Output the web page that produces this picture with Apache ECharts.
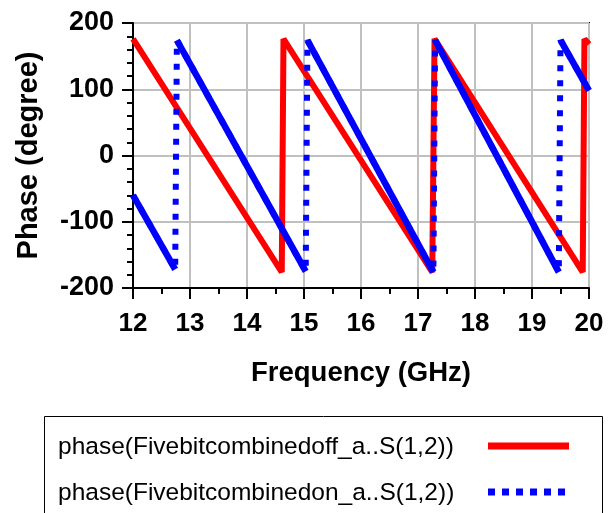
<!DOCTYPE html>
<html>
  <head>
    <meta charset="UTF-8" />
    <title>Phase vs Frequency</title>
    <style>
      body { margin: 0; padding: 0; background: #fff; }
      #container { width: 613px; height: 513px; }
    </style>
  </head>
  <body>
    <div id="container"></div>
    <script src="https://cdn.jsdelivr.net/npm/echarts@6/dist/echarts.min.js"></script>
    <script>
      // series names as in the legend
      const offName = "phase(Fivebitcombinedoff_a..S(1,2))";
      const onName = "phase(Fivebitcombinedon_a..S(1,2))";

      // "off" state: frequency (GHz) / phase (degree) break points
      const offFreq = [12.0, 14.61, 14.64, 17.25, 17.29, 19.89, 19.92, 20.0];
      const offPhase = [176, -176, 176, -176, 176, -176, 176, 168];

      // "on" state
      const onFreq = [12.0, 12.74, 12.77, 15.03, 15.06, 17.27, 17.3, 19.47, 19.5, 20.0];
      const onPhase = [-60, -172, 174, -175, 174, -176, 174, -176, 174, 98];

      const xTicks = [12, 13, 14, 15, 16, 17, 18, 19, 20];
      const yTicks = [-200, -100, 0, 100, 200];

      const pts = (f, p) => f.map((v, i) => [v, p[i]]);
      const offPts = pts(offFreq, offPhase);
      const onPts = pts(onFreq, onPhase);

      // sloped parts of the "on" curve are drawn solid, the wraps dotted
      const onSlopes = [];
      for (let i = 0; i + 1 < onPts.length; i += 2) {
        onSlopes.push({
          type: "line",
          name: "on-seg",
          data: [onPts[i], onPts[i + 1]],
          symbol: "none",
          silent: true,
          lineStyle: { color: "#0000ff", width: 6.5 },
          z: 4,
        });
      }

      const font = "Liberation Sans";
      const legendText = { fontFamily: font, fontSize: 24.5, fill: "#000", verticalAlign: "middle" };

      var chart = echarts.init(document.getElementById("container"));
      chart.setOption({
        animation: false,
        grid: {
          left: 133,
          right: 24,
          top: 23,
          bottom: 225,
          show: true,
          borderColor: "#000",
          borderWidth: 2,
        },
        xAxis: {
          type: "value",
          min: xTicks[0],
          max: xTicks[xTicks.length - 1],
          interval: 1,
          name: "Frequency (GHz)",
          nameLocation: "middle",
          nameGap: 71,
          nameTextStyle: { fontFamily: font, fontWeight: "bold", fontSize: 27.5, color: "#000" },
          axisLine: { onZero: false, lineStyle: { color: "#000", width: 2 } },
          axisTick: { length: 11, lineStyle: { color: "#000", width: 2 } },
          minorTick: { show: true, splitNumber: 2, length: 6, lineStyle: { color: "#000", width: 2 } },
          axisLabel: { margin: 23, fontFamily: font, fontWeight: "bold", fontSize: 26, color: "#000" },
          splitLine: { lineStyle: { color: "#c0c0c0", width: 2 } },
        },
        yAxis: {
          type: "value",
          min: yTicks[0],
          max: yTicks[yTicks.length - 1],
          interval: 100,
          name: "Phase (degree)",
          nameLocation: "middle",
          nameGap: 90,
          nameTextStyle: { fontFamily: font, fontWeight: "bold", fontSize: 29, color: "#000" },
          axisLine: { onZero: false, lineStyle: { color: "#000", width: 2 } },
          axisTick: { length: 11, lineStyle: { color: "#000", width: 2 } },
          minorTick: { show: true, splitNumber: 5, length: 6, lineStyle: { color: "#000", width: 2 } },
          axisLabel: { margin: 19, fontFamily: font, fontWeight: "bold", fontSize: 27, color: "#000" },
          splitLine: { lineStyle: { color: "#c0c0c0", width: 2 } },
        },
        // legend box, drawn by hand (text left, sample line right)
        graphic: [
          {
            type: "rect",
            shape: { x: 44.5, y: 416.5, width: 558, height: 140 },
            style: { fill: "none", stroke: "#000", lineWidth: 1 },
          },
          { type: "text", x: 58, y: 447, style: Object.assign({ text: offName }, legendText) },
          {
            type: "line",
            shape: { x1: 488, y1: 446, x2: 569, y2: 446 },
            style: { stroke: "#ff0000", lineWidth: 7 },
          },
          { type: "text", x: 58, y: 493, style: Object.assign({ text: onName }, legendText) },
          {
            type: "line",
            shape: { x1: 488, y1: 492, x2: 567, y2: 492 },
            style: { stroke: "#0000ff", lineWidth: 7, lineDash: [7, 7] },
          },
        ],
        series: [
          {
            type: "line",
            name: offName,
            data: offPts,
            symbol: "none",
            lineStyle: { color: "#ff0000", width: 6, cap: "butt" },
            z: 2,
          },
          {
            type: "line",
            name: onName,
            data: onPts,
            symbol: "none",
            lineStyle: { color: "#0000ff", width: 6, type: [6, 9], cap: "butt" },
            z: 3,
          },
          ...onSlopes,
        ],
      });
    </script>
  </body>
</html>
